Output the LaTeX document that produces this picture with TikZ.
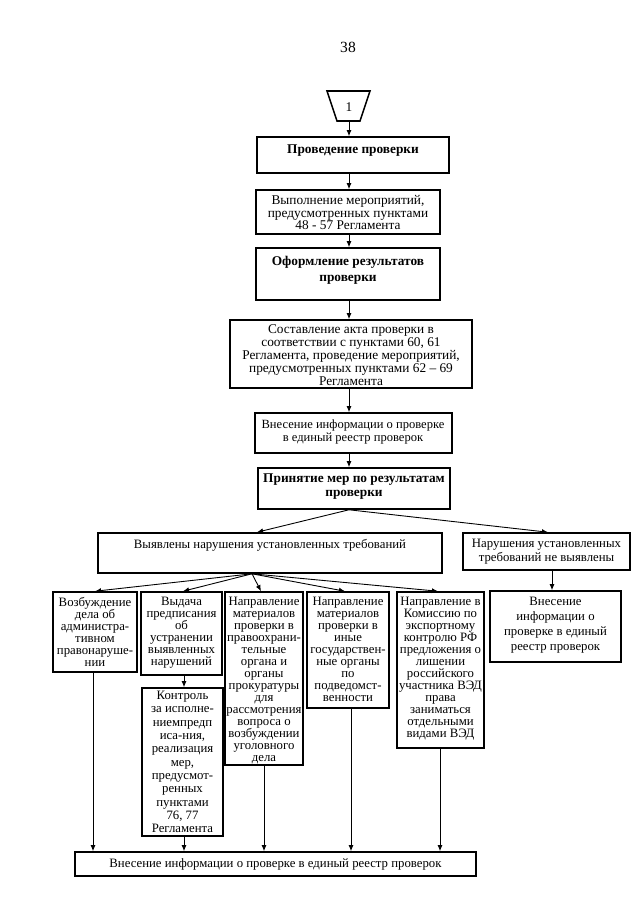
\documentclass[tikz,border=0pt]{standalone}
\usepackage{fontspec}
\setmainfont{Liberation Serif}
\usetikzlibrary{arrows.meta,fit}
\begin{document}
\begin{tikzpicture}[x=0.9pt,y=-0.9pt,
  bx/.style={draw,line width=1.4pt,inner sep=0pt,rectangle},
  arr/.style={-{Latex[length=5.5pt,width=4.5pt]},line width=0.8pt},
  fs/.style={font=\fontsize{12pt}{#1}\selectfont},
  fss/.style={font=\fontsize{11.5pt}{#1}\selectfont},
  fsb/.style={font=\fontsize{12pt}{#1}\selectfont\bfseries},
  tx/.style={align=center,inner sep=0pt},
  tt/.style={align=center,inner sep=0pt,anchor=north,fss=10.8pt}]
\useasboundingbox[fill=white] (0,0) rectangle (640,905);

% page number
\node[tx,font=\fontsize{14pt}{16pt}\selectfont] (pg) at (348,47) {38};

% connector symbol
\draw[line width=1.4pt] (327,91) -- (370,91) -- (360,121) -- (337,121) -- cycle;
\node[tx,fs=14pt] (one) at (349,107) {1};
\coordinate (ax) at (349,121);

% boxes
\node[bx,fit={(257,137)(449,173)}] (b1) {};
\node[bx,fit={(256,190)(440,234)}] (b2) {};
\node[bx,fit={(256,248)(440,300)}] (b3) {};
\node[bx,fit={(230,320)(472,388)}] (b4) {};
\node[bx,fit={(255,413)(452,453)}] (b5) {};
\node[bx,fit={(258,468)(450,509)}] (b6) {};
\node[bx,fit={(98,533)(442,573)}] (b7) {};
\node[bx,fit={(463,533)(630,570)}] (b8) {};
\node[bx,fit={(490,591)(621,662)}] (b14) {};
\node[bx,fit={(53,592)(137,672)}] (b9) {};
\node[bx,fit={(141,592)(222,675)}] (b10) {};
\node[bx,fit={(142,688)(223,836)}] (b10a) {};
\node[bx,fit={(225,592)(303,765)}] (b11) {};
\node[bx,fit={(307,592)(389,708)}] (b12) {};
\node[bx,fit={(397,592)(484,748)}] (b13) {};
\node[bx,fit={(75,852)(476,876)}] (b15) {};

% texts
\node[tx,fsb=14pt] (t1) at (353,151) {Проведение проверки};
\node[tx,fs=11.25pt] (t2) at (348,212.5) {Выполнение мероприятий,\\предусмотренных пунктами\\48 - 57 Регламента};
\node[tx,fsb=14.4pt] (t3) at (348,270) {Оформление результатов\\проверки};
\node[tx,fs=11.8pt] (t4) at (351,355) {Составление акта проверки в\\соответствии с пунктами 60, 61\\Регламента, проведение мероприятий,\\предусмотренных пунктами 62 – 69\\Регламента};
\node[tx,font=\fontsize{11.3pt}{11.7pt}\selectfont] (t5) at (353,432) {Внесение информации о проверке\\в единый реестр проверок};
\node[tx,fsb=12.6pt] (t6) at (354,487) {Принятие мер по результатам\\проверки};
\node[tx,fss=12pt,anchor=north] (t7) at (270,539) {Выявлены нарушения установленных требований};
\node[tx,fss=12.8pt] (t8) at (546.5,552) {Нарушения установленных\\требований не выявлены};
\node[tx,fss=13.5pt] (t14) at (555.5,625) {Внесение\\информации о\\проверке в единый\\реестр проверок};
\node[tt] (t9) at (95,597) {Возбуждение\\дела об\\администра-\\тивном\\правонаруше-\\нии};
\node[tt] (t10) at (181.5,597) {Выдача\\предписания\\об\\устранении\\выявленных\\нарушений};
\node[tt] (t11) at (264,597) {Направление\\материалов\\проверки в\\правоохрани-\\тельные\\органа и\\органы\\прокуратуры\\для\\рассмотрения\\вопроса о\\возбуждении\\уголовного\\дела};
\node[tt] (t12) at (348,597) {Направление\\материалов\\проверки в\\иные\\государствен-\\ные органы\\по\\подведомст-\\венности};
\node[tt] (t13) at (440.5,597) {Направление в\\Комиссию по\\экспортному\\контролю РФ\\предложения о\\лишении\\российского\\участника ВЭД\\права\\заниматься\\отдельными\\видами ВЭД};
\node[tt,fss=12pt] (t10a) at (182.5,691) {Контроль\\за исполне-\\ниемпредп\\иса-ния,\\реализация\\мер,\\предусмот-\\ренных\\пунктами\\76, 77\\Регламента};
\node[tx,fss=12pt] (t15) at (275.5,864) {Внесение информации о проверке в единый реестр проверок};

% main vertical connectors
\draw[arr] (ax) -- (ax |- b1.north);
\draw[arr] (ax |- b1.south) -- (ax |- b2.north);
\draw[arr] (ax |- b2.south) -- (ax |- b3.north);
\draw[arr] (ax |- b3.south) -- (ax |- b4.north);
\draw[arr] (ax |- b4.south) -- (ax |- b5.north);
\draw[arr] (ax |- b5.south) -- (ax |- b6.north);

% first fan
\coordinate (f1) at (ax |- b6.south);
\coordinate (x7) at (257,0);
\coordinate (x8) at (548,0);
\draw[arr] (f1) -- (x7 |- b7.north);
\draw[arr] (f1) -- (x8 |- b8.north);

% second fan
\coordinate (x70) at (252,0);
\coordinate (f2) at (x70 |- b7.south);
\coordinate (x9) at (95,0);
\coordinate (x10) at (183,0);
\coordinate (x11) at (261,0);
\coordinate (x12) at (345,0);
\coordinate (x13) at (438,0);
\draw[arr] (f2) -- (x9 |- b9.north);
\draw[arr] (f2) -- (x10 |- b10.north);
\draw[arr] (f2) -- (x11 |- b11.north);
\draw[arr] (f2) -- (x12 |- b12.north);
\draw[arr] (f2) -- (x13 |- b13.north);

% right branch
\coordinate (x14) at (552,0);
\draw[arr] (x14 |- b8.south) -- (x14 |- b14.north);

% down to the final box
\coordinate (d9) at (93,0);
\coordinate (d10) at (184,0);
\coordinate (d11) at (264,0);
\coordinate (d12) at (351,0);
\coordinate (d13) at (440,0);
\draw[arr] (d9 |- b9.south) -- (d9 |- b15.north);
\draw[arr] (d10 |- b10.south) -- (d10 |- b10a.north);
\draw[arr] (d10 |- b10a.south) -- (d10 |- b15.north);
\draw[arr] (d11 |- b11.south) -- (d11 |- b15.north);
\draw[arr] (d12 |- b12.south) -- (d12 |- b15.north);
\draw[arr] (d13 |- b13.south) -- (d13 |- b15.north);
\end{tikzpicture}
\end{document}
